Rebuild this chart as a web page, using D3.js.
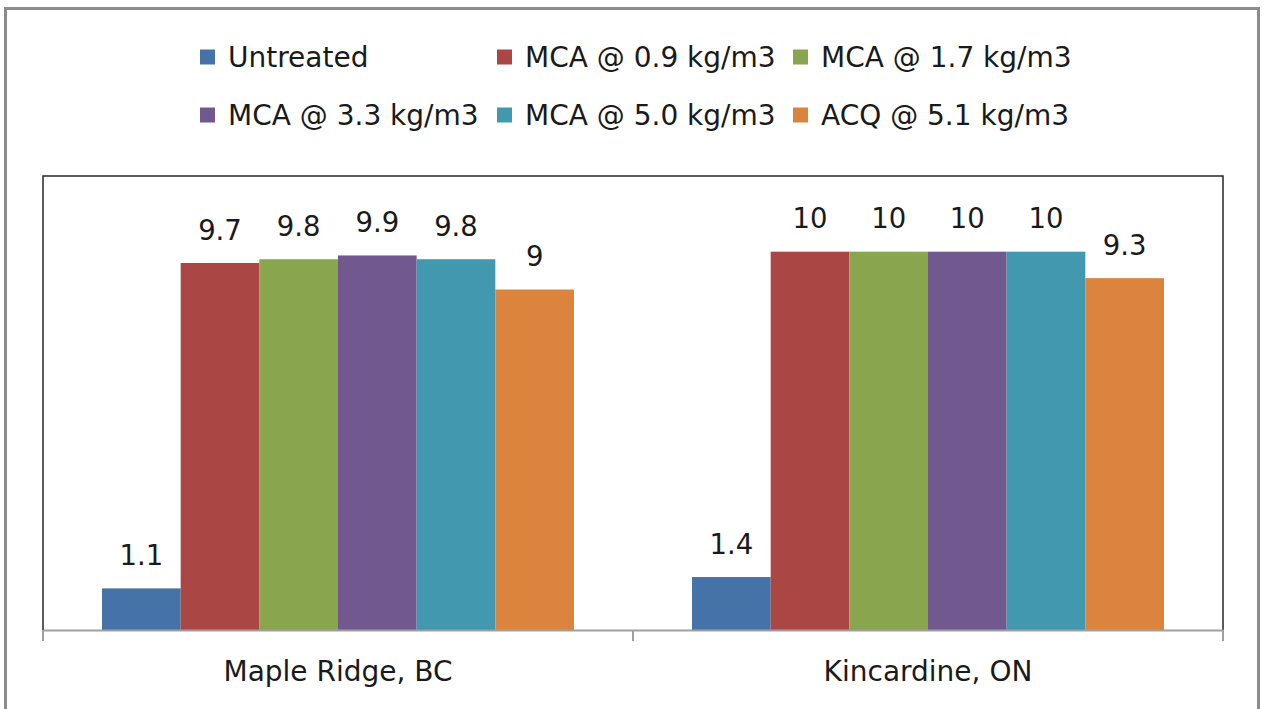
<!DOCTYPE html>
<html>
<head>
<meta charset="utf-8">
<script src="https://cdn.jsdelivr.net/npm/d3@7"></script>
<style>
  html, body { margin: 0; padding: 0; background: #fff; }
  svg { display: block; }
  text { font-family: "DejaVu Sans", "Liberation Sans", sans-serif; fill: #1a1a1a; }
</style>
</head>
<body>
<svg id="chart" width="1264" height="709"></svg>
<script>
// Sites along the category axis
const categories = ["Maple Ridge, BC", "Kincardine, ON"];
// Treatments shown as series
const seriesNames = ["Untreated", "MCA @ 0.9 kg/m3", "MCA @ 1.7 kg/m3",
                     "MCA @ 3.3 kg/m3", "MCA @ 5.0 kg/m3", "ACQ @ 5.1 kg/m3"];
// Ratings per site, one value per treatment
const mapleRidge = [1.1, 9.7, 9.8, 9.9, 9.8, 9];
const kincardine = [1.4, 10, 10, 10, 10, 9.3];
const seriesColors = ["#4572A7", "#AA4643", "#89A54E", "#71588F", "#4198AF", "#DB843D"];

const valuesByCategory = [mapleRidge, kincardine];

const svg = d3.select("#chart");

// outer frame
svg.append("rect")
  .attr("x", 5.5).attr("y", 8.5).attr("width", 1253).attr("height", 710)
  .attr("fill", "none").attr("stroke", "#8c8c8c").attr("stroke-width", 3);

const plot = { left: 43, right: 1223, top: 176, bottom: 630 };

const y = d3.scaleLinear().domain([0, 12]).range([plot.bottom, plot.top]);
const x0 = d3.scaleBand().domain(categories).range([plot.left, plot.right])
  .paddingInner(0).paddingOuter(0);
const x1 = d3.scaleBand().domain(seriesNames).range([0, x0.bandwidth()])
  .paddingInner(0).paddingOuter(0.75);

// plot area box (top, left, right)
svg.append("path")
  .attr("d", `M${plot.left},${plot.bottom}V${plot.top}H${plot.right}V${plot.bottom}`)
  .attr("fill", "none").attr("stroke", "#262626").attr("stroke-width", 1.5);

// bars
const groups = svg.selectAll("g.site")
  .data(categories)
  .join("g")
  .attr("class", "site")
  .attr("transform", d => `translate(${x0(d)},0)`);

groups.selectAll("rect")
  .data((d, i) => valuesByCategory[i].map((v, j) => ({ name: seriesNames[j], value: v, color: seriesColors[j] })))
  .join("rect")
  .attr("x", d => x1(d.name))
  .attr("y", d => y(d.value))
  .attr("width", x1.bandwidth())
  .attr("height", d => y(0) - y(d.value))
  .attr("fill", d => d.color);

// value labels
groups.selectAll("text.val")
  .data((d, i) => valuesByCategory[i].map((v, j) => ({ name: seriesNames[j], value: v })))
  .join("text")
  .attr("class", "val")
  .attr("x", d => x1(d.name) + x1.bandwidth() / 2)
  .attr("y", d => y(d.value) - 23.5)
  .attr("text-anchor", "middle")
  .attr("font-size", 27.5)
  .text(d => d3.format("~g")(d.value));

// category axis
const xAxis = d3.axisBottom(x0).tickSize(0).tickPadding(31);
const axisG = svg.append("g")
  .attr("transform", `translate(0,${plot.bottom})`)
  .call(xAxis);
axisG.select(".domain").attr("stroke", "#a0a0a0").attr("stroke-width", 2);
axisG.selectAll(".tick text")
  .attr("font-size", 28)
  .attr("fill", "#1a1a1a")
  .attr("font-family", "'DejaVu Sans', sans-serif");

// tick marks at category boundaries
const boundaries = [plot.left, ...categories.slice(1).map(c => x0(c)), plot.right];
svg.selectAll("line.tick-mark")
  .data(boundaries)
  .join("line")
  .attr("class", "tick-mark")
  .attr("x1", d => d).attr("x2", d => d)
  .attr("y1", plot.bottom).attr("y2", plot.bottom + 11)
  .attr("stroke", "#a0a0a0").attr("stroke-width", 2);

// legend
const legendCols = [200, 497, 793];
const legendRows = [57, 115];
const legend = svg.selectAll("g.legend")
  .data(seriesNames)
  .join("g")
  .attr("class", "legend")
  .attr("transform", (d, i) => `translate(${legendCols[i % 3]},${legendRows[Math.floor(i / 3)]})`);
legend.append("rect")
  .attr("x", 0).attr("y", -7.5).attr("width", 15).attr("height", 15)
  .attr("fill", (d, i) => seriesColors[i]);
legend.append("text")
  .attr("x", 28).attr("y", 10)
  .attr("font-size", 28)
  .text(d => d);
</script>
</body>
</html>
